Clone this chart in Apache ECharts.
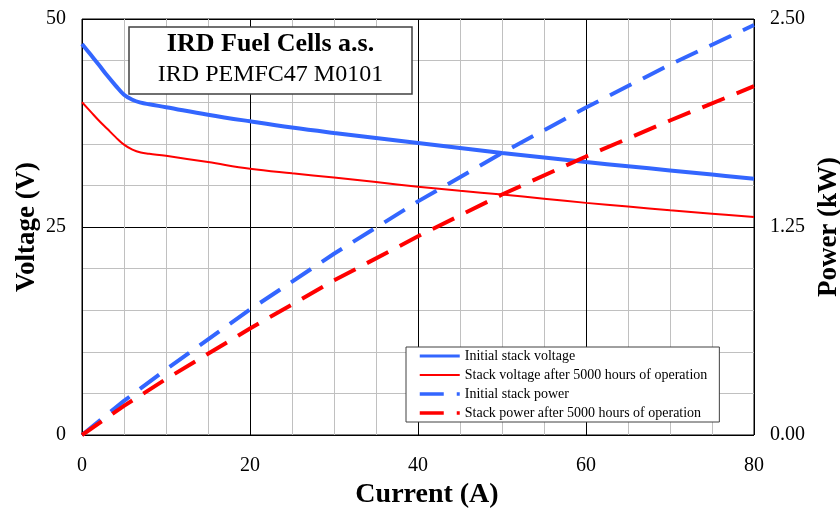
<!DOCTYPE html>
<html>
<head>
<meta charset="utf-8">
<script src="https://cdn.jsdelivr.net/npm/echarts@6/dist/echarts.min.js"></script>
<style>
  html, body { margin: 0; padding: 0; background: #fff; }
  #chart { width: 840px; height: 509px; }
</style>
</head>
<body>
<div id="chart"></div>
<script>
// Polarisation curves of the IRD PEMFC47 M0101 stack
const FONT = '"Liberation Serif", "Times New Roman", serif';

// Stack current (A) for the voltage curves
const voltageCurrent = [0, 1, 2, 3, 4, 5, 6, 7, 8, 10, 15, 20, 25, 30, 35, 40, 45, 50, 55, 60, 65, 70, 75, 80];
// Stack voltage (V), new stack
const initialVoltage = [47.0, 45.75, 44.5, 43.2, 42.0, 40.9, 40.3, 39.95, 39.75, 39.4, 38.5, 37.7, 36.95, 36.3, 35.7, 35.1, 34.5, 33.9, 33.35, 32.8, 32.3, 31.8, 31.3, 30.8];
// Stack voltage (V) after 5000 h
const agedVoltage = [40.0, 38.9, 37.8, 36.8, 35.8, 34.9, 34.3, 33.95, 33.8, 33.55, 32.8, 32.0, 31.45, 30.95, 30.4, 29.85, 29.35, 28.9, 28.4, 27.9, 27.45, 27.0, 26.6, 26.2];

// Stack current (A) for the power curves
const powerCurrent = [0, 5, 10, 20, 30, 40, 50, 60, 70, 80];
// Stack power (kW), new stack
const initialPower = [0, 0.205, 0.394, 0.754, 1.089, 1.404, 1.695, 1.968, 2.226, 2.464];
// Stack power (kW) after 5000 h
const agedPower = [0, 0.175, 0.336, 0.640, 0.929, 1.194, 1.445, 1.674, 1.890, 2.096];

const seriesNames = [
  'Initial stack voltage',
  'Stack voltage after 5000 hours of operation',
  'Initial stack power',
  'Stack power after 5000 hours of operation'
];

const pairs = (xs, ys) => xs.map((x, i) => [x, ys[i]]);

const BLUE = '#3366ff';
const RED = '#ff0000';
const DASH = [24, 13];

const chart = echarts.init(document.getElementById('chart'), null, { renderer: 'canvas' });

chart.setOption({
  animation: false,
  backgroundColor: '#fff',
  grid: {
    left: 82, right: 86, top: 19, bottom: 74,
    outerBoundsMode: 'none', containLabel: false,
    show: true, borderColor: '#000', borderWidth: 1, backgroundColor: '#fff'
  },
  xAxis: {
    type: 'value', min: 0, max: 80, interval: 20,
    name: 'Current (A)', nameLocation: 'middle', nameGap: 46,
    nameTextStyle: {
      fontFamily: FONT, fontSize: 28, fontWeight: 'bold', color: '#000',
      padding: [0, 0, 0, 18]
    },
    axisLine: { show: false },
    axisTick: { show: false },
    axisLabel: { margin: 21, fontFamily: FONT, fontSize: 20, color: '#000' },
    splitLine: { show: true, lineStyle: { color: '#000', width: 1 } },
    minorTick: { show: false, splitNumber: 4 },
    minorSplitLine: { show: true, lineStyle: { color: '#c0c0c0', width: 1 } }
  },
  yAxis: [
    {
      type: 'value', min: 0, max: 50, interval: 25, position: 'left',
      name: 'Voltage (V)', nameLocation: 'middle', nameGap: 41, nameMoveOverlap: false,
      nameTextStyle: { fontFamily: FONT, fontSize: 27, fontWeight: 'bold', color: '#000' },
      axisLine: { show: false },
      axisTick: { show: false },
      axisLabel: { margin: 16, fontFamily: FONT, fontSize: 20, color: '#000' },
      splitLine: { show: true, lineStyle: { color: '#000', width: 1 } },
      minorTick: { show: false, splitNumber: 5 },
      minorSplitLine: { show: true, lineStyle: { color: '#c0c0c0', width: 1 } }
    },
    {
      type: 'value', min: 0, max: 2.5, interval: 1.25, position: 'right',
      name: 'Power (kW)', nameLocation: 'middle', nameGap: 62,
      nameTextStyle: { fontFamily: FONT, fontSize: 27, fontWeight: 'bold', color: '#000' },
      axisLine: { show: false },
      axisTick: { show: false },
      axisLabel: {
        margin: 16, fontFamily: FONT, fontSize: 20, color: '#000',
        formatter: v => v.toFixed(2)
      },
      splitLine: { show: false }
    }
  ],
  legend: {
    orient: 'vertical', left: 406, top: 347,
    itemWidth: 40, itemHeight: 14, itemGap: 5,
    padding: [2, 12, 2, 12],
    borderColor: '#404040', borderWidth: 1, backgroundColor: '#fff',
    itemStyle: { opacity: 0 },
    textStyle: { fontFamily: FONT, fontSize: 14, color: '#000' },
    data: [
      { name: seriesNames[0], lineStyle: { width: 3 } },
      { name: seriesNames[1], lineStyle: { width: 2 } },
      { name: seriesNames[2], lineStyle: { width: 3.5 } },
      { name: seriesNames[3], lineStyle: { width: 3.5 } }
    ]
  },
  graphic: [
    {
      type: 'rect', z: 100,
      shape: { x: 129, y: 27, width: 283, height: 67 },
      style: { fill: '#fff', stroke: '#404040', lineWidth: 1.5 }
    },
    {
      type: 'text', z: 101, x: 270.5, y: 44,
      style: {
        text: 'IRD Fuel Cells a.s.', fill: '#000',
        font: 'bold 26px ' + FONT, align: 'center', verticalAlign: 'middle'
      }
    },
    {
      type: 'text', z: 101, x: 270.5, y: 75,
      style: {
        text: 'IRD PEMFC47 M0101', fill: '#000',
        font: '24px ' + FONT, align: 'center', verticalAlign: 'middle'
      }
    }
  ],
  series: [
    {
      name: seriesNames[0], type: 'line', yAxisIndex: 0,
      data: pairs(voltageCurrent, initialVoltage),
      symbol: 'none', smooth: 0.4,
      lineStyle: { color: BLUE, width: 4 }, itemStyle: { color: BLUE }
    },
    {
      name: seriesNames[1], type: 'line', yAxisIndex: 0,
      data: pairs(voltageCurrent, agedVoltage),
      symbol: 'none', smooth: 0.4,
      lineStyle: { color: RED, width: 2 }, itemStyle: { color: RED }
    },
    {
      name: seriesNames[2], type: 'line', yAxisIndex: 1,
      data: pairs(powerCurrent, initialPower),
      symbol: 'none',
      lineStyle: { color: BLUE, width: 4, type: DASH }, itemStyle: { color: BLUE }
    },
    {
      name: seriesNames[3], type: 'line', yAxisIndex: 1,
      data: pairs(powerCurrent, agedPower),
      symbol: 'none',
      lineStyle: { color: RED, width: 4, type: DASH }, itemStyle: { color: RED }
    }
  ]
});
</script>
</body>
</html>
